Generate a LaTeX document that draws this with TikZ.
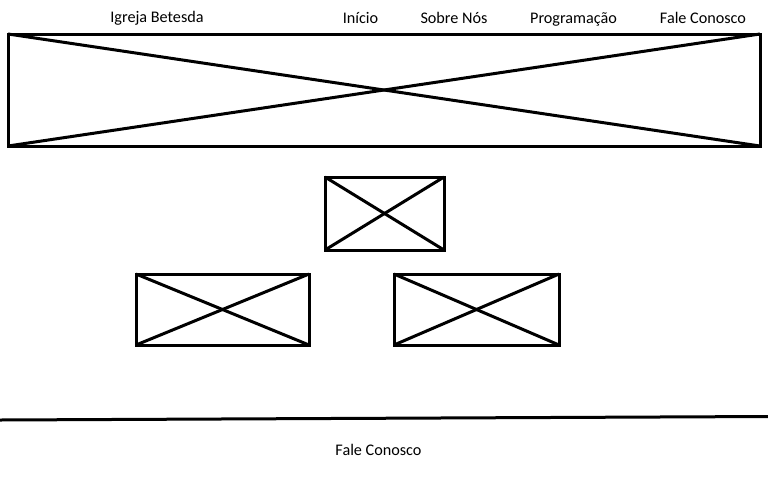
\documentclass[tikz,border=0pt]{standalone}
\usepackage{fontspec}
\setmainfont{Carlito}
\begin{document}
\begin{tikzpicture}[x=1pt,y=-1pt,
  wire/.style={line width=3pt},
  frame/.style={draw,line width=3pt,rectangle,inner sep=0pt,outer sep=0pt},
  menu/.style={font=\fontsize{16.2}{19}\selectfont,anchor=base,inner sep=0pt}]
\useasboundingbox[fill=white] (0,0) rectangle (768,480);
\node[frame,minimum width=752pt,minimum height=112pt] (hero) at (384,90) {};
\draw[wire] (hero.north west) -- (hero.south east);
\draw[wire] (hero.south west) -- (hero.north east);
\node[frame,minimum width=119pt,minimum height=73pt] (top) at (384.5,213.5) {};
\draw[wire] (top.north west) -- (top.south east);
\draw[wire] (top.south west) -- (top.north east);
\node[frame,minimum width=173pt,minimum height=71pt] (left) at (222.5,309.5) {};
\draw[wire] (left.north west) -- (left.south east);
\draw[wire] (left.south west) -- (left.north east);
\node[frame,minimum width=165pt,minimum height=71pt] (right) at (476.5,309.5) {};
\draw[wire] (right.north west) -- (right.south east);
\draw[wire] (right.south west) -- (right.north east);
\coordinate (fl) at (0,420);
\coordinate (fr) at (768,416.5);
\draw[wire] (fl) -- (fr);
\node[menu] (brand) at (157,22) {Igreja Betesda};
\node[menu] (inicio) at (360.5,23) {Início};
\node[menu] (sobre) at (454,23) {Sobre Nós};
\node[menu] (prog) at (573.5,23) {Programação};
\node[menu] (fale) at (703,23) {Fale Conosco};
\node[menu] (footer) at (378.5,455) {Fale Conosco};
\end{tikzpicture}
\end{document}
